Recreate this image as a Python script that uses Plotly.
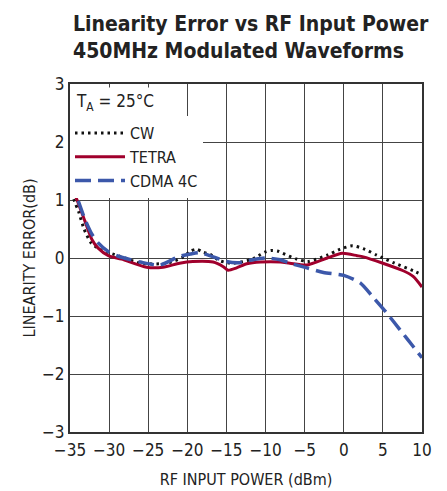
import plotly.graph_objects as go

# Data
cw_x = [-35, -34.4, -33.9, -33.2, -32.3, -31.2, -30, -28, -26, -22.6, -20.5, -19.6, -18.8, -18, -17.2, -15.8, -14.2, -11.7, -10.9, -10.1, -9.3, -8.5, -7.8, -6, -4.6, -2.1, -0.5, 1.1, 2.7, 4.2, 6.5, 8.9, 10]
cw_y = [1.23, 0.97, 0.8, 0.5, 0.26, 0.15, 0.09, 0.0, -0.09, -0.09, 0.02, 0.12, 0.15, 0.1, 0.07, -0.05, -0.09, -0.02, 0.04, 0.1, 0.13, 0.12, 0.08, -0.02, -0.06, 0.05, 0.15, 0.21, 0.15, 0.05, -0.09, -0.22, -0.29]

tetra_x = [-35, -34.1, -33.1, -32.2, -31.4, -30.1, -28.4, -25.2, -23.1, -21, -19.3, -16.7, -15.4, -14.8, -13.7, -12.4, -10.6, -8.1, -6.9, -4.7, -2.1, -0.2, 1.7, 2.5, 5, 7.6, 8.9, 10]
tetra_y = [1.3, 1.0, 0.64, 0.32, 0.17, 0.04, -0.02, -0.16, -0.16, -0.09, -0.06, -0.07, -0.15, -0.21, -0.17, -0.1, -0.07, -0.07, -0.09, -0.12, 0.0, 0.08, 0.04, 0.02, -0.09, -0.22, -0.32, -0.5]

cdma_x = [-35, -33.9, -33.1, -32.2, -31.4, -30.1, -28.8, -26, -23.5, -21, -19.6, -18.4, -16.7, -15, -13.3, -11.6, -9.9, -8.1, -6.9, -4.7, -2.6, 0, 2.1, 3.7, 5.5, 7.2, 8.9, 10]
cdma_y = [1.36, 0.97, 0.67, 0.41, 0.26, 0.11, 0.03, -0.07, -0.12, 0.03, 0.07, 0.09, 0.02, -0.06, -0.08, -0.03, 0.0, -0.03, -0.09, -0.17, -0.25, -0.3, -0.43, -0.67, -0.95, -1.24, -1.53, -1.72]

x_ticks = [-35, -30, -25, -20, -15, -10, -5, 0, 5, 10]
x_labels = ["\u221235", "\u221230", "\u221225", "\u221220", "\u221215", "\u221210", "\u22125", "0", "5", "10"]
y_ticks = [-3, -2, -1, 0, 1, 2, 3]
y_labels = ["\u22123", "\u22122", "\u22121", "0", "1", "2", "3"]

title_lines = ["Linearity Error vs RF Input Power", "450MHz Modulated Waveforms"]

FONT = "DejaVu Sans Condensed, Roboto, sans-serif"
TXT = "#222222"

# page has an 8px body margin; figure placed at (8,8)
OFF = 8
PLOT_TOP = 84 - OFF   # in figure coords
PLOT_H = 348


def py_to_paper(py):
    # py given in window pixels
    return 1 + (PLOT_TOP - (py - OFF)) / PLOT_H


fig = go.Figure()
fig.add_trace(go.Scatter(x=cw_x, y=cw_y, name="CW", mode="lines",
                         line=dict(color="#111111", width=3, dash="2.5px,4px", shape="spline", smoothing=0.7)))
fig.add_trace(go.Scatter(x=tetra_x, y=tetra_y, name="TETRA", mode="lines",
                         line=dict(color="#A0002C", width=3, shape="spline", smoothing=0.7)))
fig.add_trace(go.Scatter(x=cdma_x, y=cdma_y, name="CDMA 4C", mode="lines",
                         line=dict(color="#3C58AA", width=3.5, dash="16px,7px", shape="spline", smoothing=0.7)))

fig.update_layout(
    width=447 - OFF, height=491 - OFF,
    margin=dict(l=70 - OFF, r=25, t=84 - OFF, b=59, autoexpand=False),
    paper_bgcolor="white", plot_bgcolor="white",
    font=dict(family=FONT, size=17, color=TXT),
    showlegend=True,
    legend=dict(x=0, xanchor="left", y=py_to_paper(116), yanchor="top", bgcolor="white",
                font=dict(family=FONT, size=16, color=TXT),
                itemwidth=50, tracegroupgap=0, borderwidth=0),
    xaxis=dict(range=[-35, 10], tickvals=x_ticks, ticktext=x_labels, showgrid=True,
               gridcolor="#444444", gridwidth=1, showline=True, linecolor="#333333", linewidth=2,
               mirror=True, ticks="", zeroline=False, automargin=False, ticklabelstandoff=2,
               title=dict(text="RF INPUT POWER (dBm)", font=dict(family=FONT, size=16), standoff=14),
               tickfont=dict(family=FONT, size=17)),
    yaxis=dict(range=[-3, 3], tickvals=y_ticks, ticktext=y_labels, showgrid=True,
               gridcolor="#444444", gridwidth=1, showline=True, linecolor="#333333", linewidth=2,
               mirror=True, ticks="", zeroline=False, automargin=False,
               title=dict(text="LINEARITY ERROR(dB)", font=dict(family=FONT, size=16), standoff=2),
               tickfont=dict(family=FONT, size=17)),
)

for line, cy in zip(title_lines, [24, 51]):
    fig.add_annotation(xref="paper", yref="paper", x=0.004, y=py_to_paper(cy),
                       xanchor="left", yanchor="middle", showarrow=False,
                       text="<b>" + line + "</b>",
                       font=dict(family=FONT, size=21, color=TXT))

fig.add_annotation(xref="paper", yref="paper", x=0.005, y=py_to_paper(87), xanchor="left", yanchor="top",
                   text="T<sub>A</sub> = 25\u00b0C", showarrow=False, bgcolor="white",
                   font=dict(family=FONT, size=17, color=TXT), borderpad=3)

fig.write_html("out.html")
